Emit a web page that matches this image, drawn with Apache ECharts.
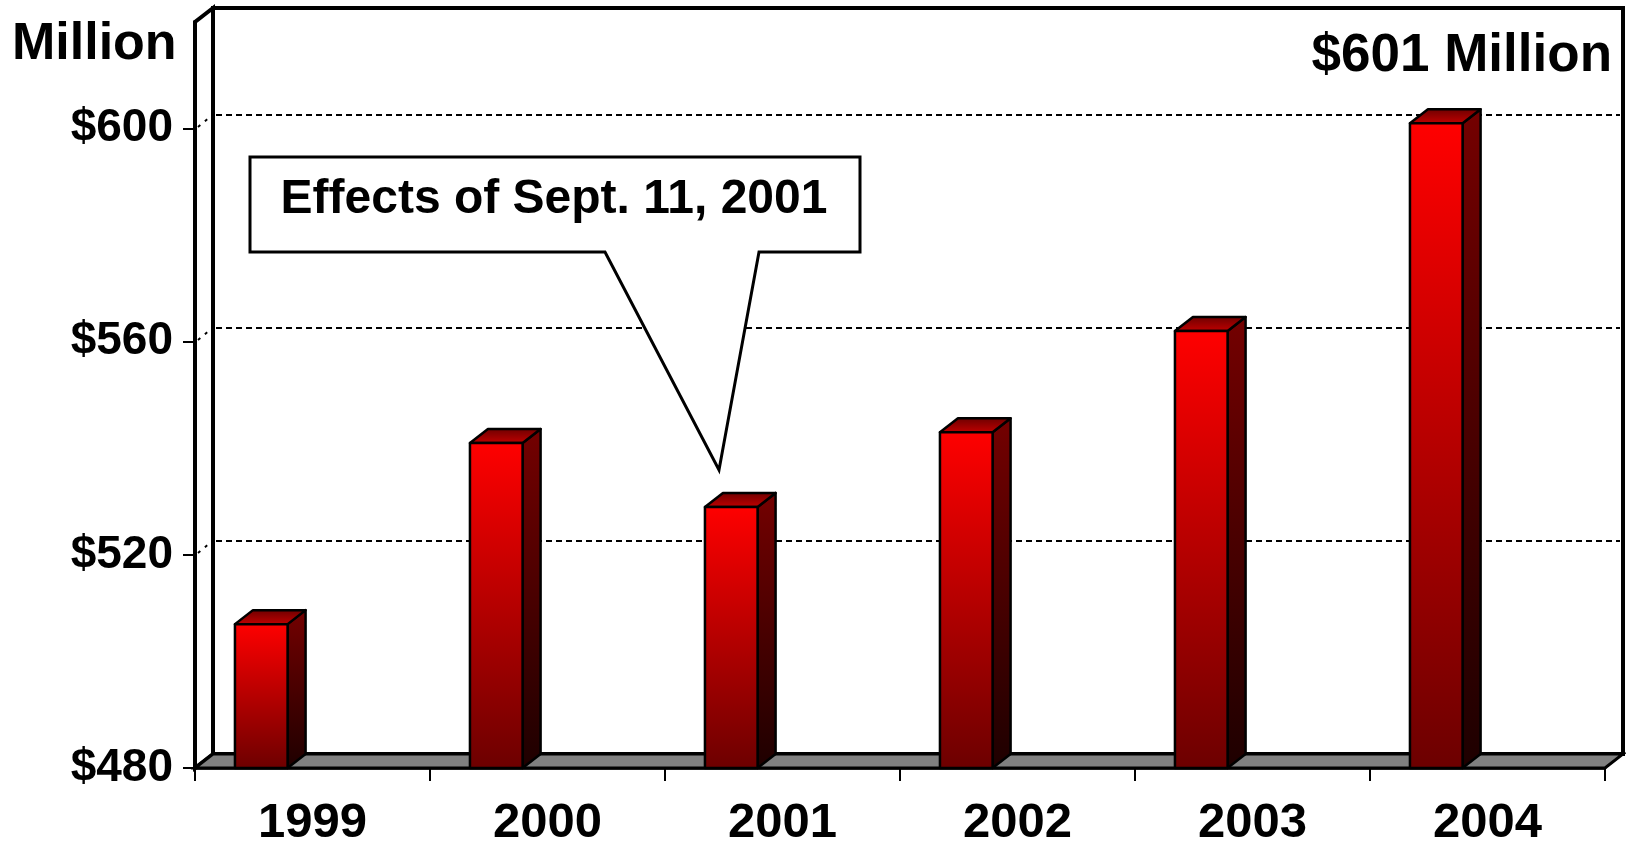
<!DOCTYPE html>
<html>
<head>
<meta charset="utf-8">
<script src="https://cdn.jsdelivr.net/npm/echarts@6/dist/echarts.min.js"></script>
<style>
  html, body { margin: 0; padding: 0; background: #ffffff; }
  #chart { width: 1626px; height: 843px; }
</style>
</head>
<body>
<div id="chart"></div>
<script>
// ---- data ----
const years = ['1999', '2000', '2001', '2002', '2003', '2004'];
const revenue = [507, 541, 529, 543, 562, 601];
const yTickValues = [480, 520, 560, 600];
const gridValues = [520, 560, 600];
const yMin = 480;
const yMax = 620;
const unitTitle = 'Million';
const totalLabel = '$601 Million';
const calloutText = 'Effects of Sept. 11, 2001';

// ---- 3D look ----
const DX = 18, DY = 14;
const FONT = '"Liberation Sans", Arial, sans-serif';

const chart = echarts.init(document.getElementById('chart'), null, { renderer: 'canvas' });

function grad(c0, c1) {
  return new echarts.graphic.LinearGradient(0, 0, 0, 1, [
    { offset: 0, color: c0 }, { offset: 1, color: c1 }
  ]);
}

const option = {
  backgroundColor: '#ffffff',
  animation: false,
  grid: { left: 195, right: 21, top: 22, bottom: 75, containLabel: false, outerBoundsMode: 'none' },
  xAxis: {
    type: 'category',
    data: years,
    boundaryGap: true,
    z: 10,
    axisLine: { show: true, lineStyle: { color: '#000', width: 2.5 } },
    axisTick: { show: true, interval: 0, length: 13, lineStyle: { color: '#000', width: 2 } },
    axisLabel: { interval: 0, margin: 31, color: '#000', fontSize: 49, fontWeight: 'bold', fontFamily: FONT },
    splitLine: { show: false }
  },
  yAxis: {
    type: 'value',
    min: yMin,
    max: yMax,
    interval: 40,
    z: 10,
    axisLine: { show: true, lineStyle: { color: '#000', width: 4 } },
    axisTick: { show: true, length: 12, customValues: yTickValues, lineStyle: { color: '#000', width: 2 } },
    axisLabel: {
      customValues: yTickValues, margin: 22, color: '#000', fontSize: 46, fontWeight: 'bold', fontFamily: FONT,
      formatter: v => '$' + v
    },
    splitLine: { show: false }
  },
  series: [
    { // back wall + left wall
      type: 'custom', name: 'walls', z: 1, silent: true,
      data: [[0, yMin]],
      renderItem: function (params, api) {
        const cs = params.coordSys;
        const x = cs.x, y = cs.y, w = cs.width, h = cs.height;
        return {
          type: 'group',
          children: [
            { type: 'rect', shape: { x: x + DX, y: y - DY, width: w, height: h },
              style: { fill: '#fff', stroke: '#000', lineWidth: 4 } },
            { type: 'polygon', shape: { points: [[x, y + h], [x, y], [x + DX, y - DY], [x + DX, y + h - DY]] },
              style: { fill: '#fff', stroke: '#000', lineWidth: 4, lineJoin: 'miter' } }
          ]
        };
      }
    },
    { // gridlines on back wall
      type: 'custom', name: 'grid', z: 1.5, silent: true,
      data: gridValues.map(v => [0, v]),
      renderItem: function (params, api) {
        const cs = params.coordSys;
        const py = Math.round(api.coord([0, api.value(1)])[1]);
        return {
          type: 'group',
          children: [
            { type: 'line', shape: { x1: cs.x + DX + 3, y1: py - DY, x2: cs.x + cs.width + DX - 3, y2: py - DY },
              style: { stroke: '#000', lineWidth: 2, lineDash: [6, 4] } },
            { type: 'line', shape: { x1: cs.x + 3, y1: py - 2, x2: cs.x + DX - 3, y2: py - DY + 2 },
              style: { stroke: '#000', lineWidth: 2, lineDash: [3, 6] } }
          ]
        };
      }
    },
    { // floor
      type: 'custom', name: 'floor', z: 1.8, silent: true,
      data: [[0, yMin]],
      renderItem: function (params, api) {
        const cs = params.coordSys;
        const x = cs.x, yb = cs.y + cs.height, w = cs.width;
        return {
          type: 'polygon',
          shape: { points: [[x, yb], [x + DX, yb - DY], [x + w + DX, yb - DY], [x + w, yb]] },
          style: { fill: '#808080', stroke: '#000', lineWidth: 3, lineJoin: 'miter' }
        };
      }
    },
    { // 3D bars
      type: 'custom', name: 'Revenue', z: 3,
      data: revenue.map((v, i) => [i, v]),
      encode: { x: 0, y: 1 },
      renderItem: function (params, api) {
        const idx = api.value(0);
        const val = api.value(1);
        const top = api.coord([idx, val]);
        const base = api.coord([idx, yMin]);
        const bw = api.size([1, 0])[0];
        const x0 = top[0] - 0.33 * bw;
        const bwid = 0.224 * bw;
        const x1 = x0 + bwid;
        const t = top[1], b = base[1];
        const stroke = { stroke: '#000', lineWidth: 2.5, lineJoin: 'round' };
        return {
          type: 'group',
          children: [
            { type: 'polygon', shape: { points: [[x1, t], [x1 + DX, t - DY], [x1 + DX, b - DY], [x1, b]] },
              style: Object.assign({ fill: grad('#740000', '#1e0000') }, stroke) },
            { type: 'polygon', shape: { points: [[x0, t], [x0 + DX, t - DY], [x1 + DX, t - DY], [x1, t]] },
              style: Object.assign({ fill: grad('#6a0000', '#c40000') }, stroke) },
            { type: 'rect', shape: { x: x0, y: t, width: bwid, height: b - t },
              style: Object.assign({ fill: grad('#ff0000', '#6c0000') }, stroke) }
          ]
        };
      }
    }
  ],
  graphic: [
    { type: 'text', z: 20, left: 12, top: 19,
      style: { text: unitTitle, fill: '#000', font: 'bold 52px ' + FONT } },
    { type: 'text', z: 20, right: 14, top: 30,
      style: { text: totalLabel, fill: '#000', font: 'bold 53px ' + FONT } },
    { type: 'polygon', z: 20,
      shape: { points: [[250, 157], [860, 157], [860, 252], [759, 252], [719, 470], [605, 252], [250, 252]] },
      style: { fill: '#fff', stroke: '#000', lineWidth: 3, lineJoin: 'miter' } },
    { type: 'text', z: 21, x: 554, y: 200,
      style: { text: calloutText, fill: '#000', font: 'bold 48px ' + FONT, align: 'center', verticalAlign: 'middle' } }
  ]
};

chart.setOption(option);
</script>
</body>
</html>
